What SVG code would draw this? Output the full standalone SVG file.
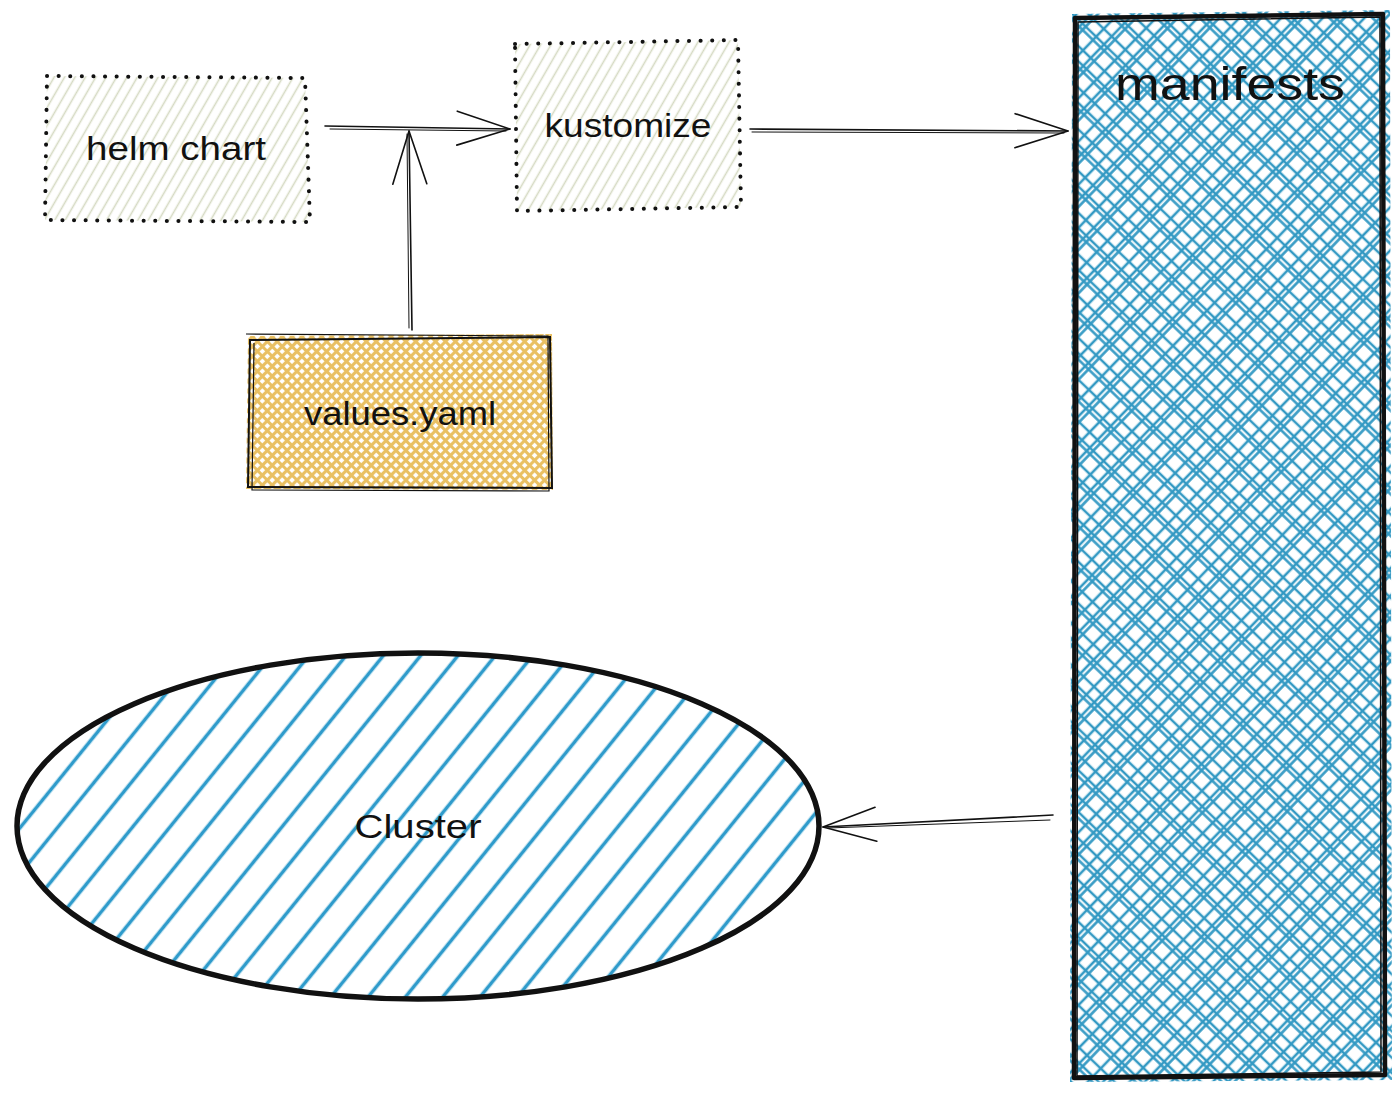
<svg xmlns="http://www.w3.org/2000/svg" width="1400" height="1094" viewBox="0 0 1400 1094">
<style>
.lbl{font-family:"Liberation Sans","DejaVu Sans",sans-serif;fill:#111;text-anchor:middle}
.dot{fill:none;stroke:#111;stroke-width:4;stroke-linecap:round;stroke-dasharray:0.1 11.5}
.edge{fill:none;stroke:#111;stroke-width:1.6;stroke-linecap:round}
.edge2{fill:none;stroke:#111;stroke-width:1;stroke-linecap:round}
</style>
<defs>
<pattern id="pLight" patternUnits="userSpaceOnUse" width="9" height="9" patternTransform="rotate(30)">
<line x1="4.5" y1="0" x2="4.5" y2="9" stroke="#d5dac3" stroke-width="1.6"/>
</pattern>
<pattern id="pYellow" patternUnits="userSpaceOnUse" width="7" height="7" patternTransform="rotate(45)">
<path d="M3.5,0V7M0,3.5H7" stroke="#e9c063" stroke-width="3.2"/>
</pattern>
<pattern id="pBlueX" patternUnits="userSpaceOnUse" width="30" height="30" patternTransform="rotate(44)">
<path d="M4,0V30M15,0V30M19.5,0V30M0,4H30M0,15H30M0,19.5H30" stroke="#3399c3" stroke-width="2.6"/>
</pattern>
<pattern id="pBlueH" patternUnits="userSpaceOnUse" width="29" height="29" patternTransform="rotate(39)">
<line x1="14.5" y1="0" x2="14.5" y2="29" stroke="#2f9bcb" stroke-width="3.6"/>
</pattern>
<marker id="arr" viewBox="0 0 58 38" refX="55" refY="19" markerWidth="58" markerHeight="38" markerUnits="userSpaceOnUse" orient="auto">
<path d="M2,2 L55,19 L2,36" fill="none" stroke="#111" stroke-width="1.6" stroke-linecap="round" stroke-linejoin="round"/>
</marker>
</defs>
<rect width="1400" height="1094" fill="#fff"/>

<g id="connectors">
<path class="edge" d="M325,126 L510,129" marker-end="url(#arr)"/>
<path class="edge2" d="M330,129 L506,131"/>
<path class="edge" d="M412,330 L409,131" marker-end="url(#arr)"/>
<path class="edge2" d="M409,328 L407,134"/>
<path class="edge" d="M750,129 L1068,131" marker-end="url(#arr)"/>
<path class="edge2" d="M752,132 L1064,133"/>
<path class="edge" d="M1053,815 L823,827" marker-end="url(#arr)"/>
<path class="edge2" d="M1050,820 L828,828"/>
</g>

<g id="helm-chart">
<path d="M47,76 L305,78 L310,222 L45,220 Z" fill="url(#pLight)"/>
<path class="dot" d="M47,76 L305,78 L310,222 L45,220 Z"/>
<text class="lbl" x="176" y="160" font-size="34" textLength="180" lengthAdjust="spacingAndGlyphs">helm chart</text>
</g>

<g id="kustomize">
<path d="M515,44 L738,40 L741,207 L517,211 Z" fill="url(#pLight)"/>
<path class="dot" d="M515,44 L738,40 L741,207 L517,211 Z"/>
<text class="lbl" x="628" y="137" font-size="34" textLength="167" lengthAdjust="spacingAndGlyphs">kustomize</text>
</g>

<g id="values-yaml">
<path d="M248,336 L552,334 L553,490 L246,489 Z" fill="url(#pYellow)"/>
<path d="M250,340 L550,337 L552,488 L248,487 Z" fill="none" stroke="#111" stroke-width="2"/>
<path d="M246,334 L548,336 L549,491 L252,490 L254,343" fill="none" stroke="#111" stroke-width="1.2"/>
<text class="lbl" x="400" y="425" font-size="34" textLength="192" lengthAdjust="spacingAndGlyphs">values.yaml</text>
</g>

<g id="manifests">
<path d="M1072,14 L1390,10 L1392,1080 L1070,1082 Z" fill="url(#pBlueX)"/>
<path d="M1075,18 L1383,14 L1385,1075 L1074,1078 Z" fill="none" stroke="#111" stroke-width="4.5" stroke-linejoin="round"/>
<path d="M1078,22 L1380,17 L1381,1072 L1077,1076 Z" fill="none" stroke="#111" stroke-width="1.5"/>
<text class="lbl" x="1230" y="100" font-size="46" textLength="230" lengthAdjust="spacingAndGlyphs">manifests</text>
</g>

<g id="cluster">
<ellipse cx="418" cy="826" rx="401" ry="173" fill="url(#pBlueH)"/>
<ellipse cx="418" cy="826" rx="401" ry="173" fill="none" stroke="#111" stroke-width="5.5"/>
<text class="lbl" x="418" y="838" font-size="34" textLength="127" lengthAdjust="spacingAndGlyphs">Cluster</text>
</g>
</svg>
